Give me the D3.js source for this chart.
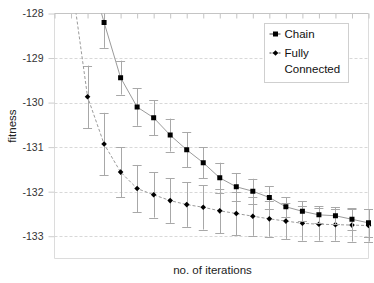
<!DOCTYPE html>
<html>
<head>
<meta charset="utf-8">
<script src="https://cdn.jsdelivr.net/npm/d3@7"></script>
<style type="text/css">
  body{
    margin: 0px;
    background: white;
    font-family: Arial, 'Liberation Sans', sans-serif;
  }
  .tickText{ font-size: 10.5px; fill: #333; }
  .titleText{ font-size: 11.5px; fill: #222; }
  .legendText{ font-size: 11.5px; fill: #111; }
</style>
</head>
<body>
<svg id="chart" width="374" height="283"></svg>
<script>

// categories (iteration slots, left to right)
var iterations = [1,2,3,4,5,6,7,8,9,10,11,12,13,14,15,16,17,18,19,20];

// chain series, null = not plotted
var chainMean = [null, null, -126.9, -128.20, -129.44, -130.10, -130.34, -130.73, -131.06, -131.35,
                 -131.69, -131.89, -131.99, -132.13, -132.34, -132.44, -132.52, -132.54, -132.62, -132.70];
var chainErr  = [null, null, 0.6, 0.57, 0.38, 0.42, 0.39, 0.37, 0.39, 0.35,
                 0.34, 0.31, 0.28, 0.25, 0.22, 0.22, 0.19, 0.19, 0.25, 0.31];

// fully connected series
var fullMean = [null, -127.18, -129.87, -130.93, -131.56, -131.93, -132.07, -132.20, -132.29, -132.35,
                -132.43, -132.49, -132.55, -132.61, -132.66, -132.71, -132.73, -132.74, -132.75, -132.76];
var fullErr  = [null, 0.7, 0.70, 0.70, 0.56, 0.53, 0.51, 0.50, 0.50, 0.50,
                0.50, 0.49, 0.44, 0.40, 0.40, 0.39, 0.37, 0.36, 0.37, 0.36];

var yTicks = [-128, -129, -130, -131, -132, -133];

var plotL = 54.5, plotR = 368.5, plotT = 13.5, plotB = 258.5;

var svg = d3.select("#chart");

var x = d3.scalePoint().domain(iterations).range([plotL, plotR]);
var y = d3.scaleLinear().domain([-133.5, -128]).range([plotB, plotT]);

svg.append("defs").append("clipPath").attr("id", "plotClip")
  .append("rect")
  .attr("x", plotL - 6).attr("y", plotT)
  .attr("width", plotR - plotL + 12).attr("height", plotB - plotT);

// grid lines
svg.append("g").selectAll("line")
  .data(yTicks.filter(function(d) { return d != -128; }))
  .enter().append("line")
  .attr("x1", plotL).attr("x2", plotR)
  .attr("y1", function(d) { return Math.round(y(d)) + 0.5; })
  .attr("y2", function(d) { return Math.round(y(d)) + 0.5; })
  .attr("stroke", "#d8d8d8")
  .attr("stroke-dasharray", "3,2");

// frame
svg.append("line").attr("x1", plotL).attr("x2", plotL).attr("y1", plotT).attr("y2", plotB).attr("stroke", "#dcdcdc");
svg.append("line").attr("x1", plotR).attr("x2", plotR).attr("y1", plotT).attr("y2", plotB).attr("stroke", "#dcdcdc");
svg.append("line").attr("x1", plotL).attr("x2", plotR).attr("y1", plotB).attr("y2", plotB).attr("stroke", "#dcdcdc");

// y axis (plain hyphen minus like the original)
var yAxis = svg.append("g")
  .attr("transform", "translate(" + plotL + ",0)")
  .call(d3.axisLeft(y).tickValues(yTicks).tickSize(6).tickPadding(5)
    .tickFormat(function(d) { return String(d); }));
yAxis.select(".domain").remove();
yAxis.selectAll(".tick line").attr("stroke", "#ccc");
yAxis.attr("font-family", null).attr("font-size", null);
yAxis.selectAll(".tick text").attr("class", "tickText").attr("fill", null);

// x axis along the top (values are negative so category axis sits at -128)
var xAxis = svg.append("g")
  .attr("transform", "translate(0," + plotT + ")")
  .call(d3.axisBottom(x).tickSize(5).tickFormat(""));
xAxis.select(".domain").attr("stroke", "#c4c4c4").attr("d", "M" + plotL + ",0H" + plotR);
xAxis.selectAll(".tick line").attr("stroke", "#c4c4c4");

var plot = svg.append("g").attr("clip-path", "url(#plotClip)");

function drawSeries(means, errs, dash, marker) {
  var pts = iterations.map(function(c, i) {
    return { c: c, v: means[i], e: errs[i] };
  }).filter(function(d) { return d.v != null; });

  // error bars
  var eb = plot.append("g").selectAll("g").data(pts).enter().append("g")
    .attr("stroke", "#a8a8a8").attr("stroke-width", 1);
  eb.append("line")
    .attr("x1", function(d) { return Math.round(x(d.c)) + 0.5; })
    .attr("x2", function(d) { return Math.round(x(d.c)) + 0.5; })
    .attr("y1", function(d) { return y(d.v - d.e); })
    .attr("y2", function(d) { return y(d.v + d.e); });
  [1, -1].forEach(function(s) {
    eb.append("line")
      .attr("x1", function(d) { return x(d.c) - 4.5; })
      .attr("x2", function(d) { return x(d.c) + 4.5; })
      .attr("y1", function(d) { return Math.round(y(d.v + s * d.e)) + 0.5; })
      .attr("y2", function(d) { return Math.round(y(d.v + s * d.e)) + 0.5; });
  });

  var line = d3.line().x(function(d) { return x(d.c); }).y(function(d) { return y(d.v); });
  plot.append("path")
    .datum(pts)
    .attr("d", line)
    .attr("fill", "none")
    .attr("stroke", "#9a9a9a")
    .attr("stroke-width", 1)
    .attr("stroke-dasharray", dash);

  plot.append("g").selectAll("path").data(pts).enter().append("path")
    .attr("transform", function(d) { return "translate(" + x(d.c) + "," + y(d.v) + ")"; })
    .attr("d", marker)
    .attr("fill", "#000");
}

var squareMark = d3.symbol().type(d3.symbolSquare).size(25)();
var diamondMark = "M0,-2.8L2.8,0L0,2.8L-2.8,0Z";

drawSeries(fullMean, fullErr, "3,2", diamondMark);
drawSeries(chainMean, chainErr, null, squareMark);

// axis titles
svg.append("text").attr("class", "titleText")
  .attr("x", (plotL + plotR) / 2 + 1).attr("y", 274)
  .attr("text-anchor", "middle")
  .text("no. of iterations");

svg.append("text").attr("class", "titleText")
  .attr("transform", "translate(16,126) rotate(-90)")
  .attr("text-anchor", "middle")
  .text("fitness");

// legend
var legend = svg.append("g");
legend.append("rect")
  .attr("x", 264.5).attr("y", 23.5).attr("width", 84).attr("height", 59)
  .attr("fill", "white").attr("stroke", "#cfcfcf");

var legendItems = [
  { name: ["Chain"], dash: null, marker: squareMark, y: 34 },
  { name: ["Fully", "Connected"], dash: "2,1", marker: diamondMark, y: 53 }
];
legendItems.forEach(function(d) {
  legend.append("line")
    .attr("x1", 269.5).attr("x2", 280.5).attr("y1", d.y).attr("y2", d.y)
    .attr("stroke", "#444").attr("stroke-dasharray", d.dash);
  legend.append("path")
    .attr("transform", "translate(275.5," + d.y + ")")
    .attr("d", d.marker).attr("fill", "#000");
  d.name.forEach(function(t, j) {
    legend.append("text").attr("class", "legendText")
      .attr("x", 284.5).attr("y", d.y + 4 + j * 16)
      .text(t);
  });
});

</script>
</body>
</html>
